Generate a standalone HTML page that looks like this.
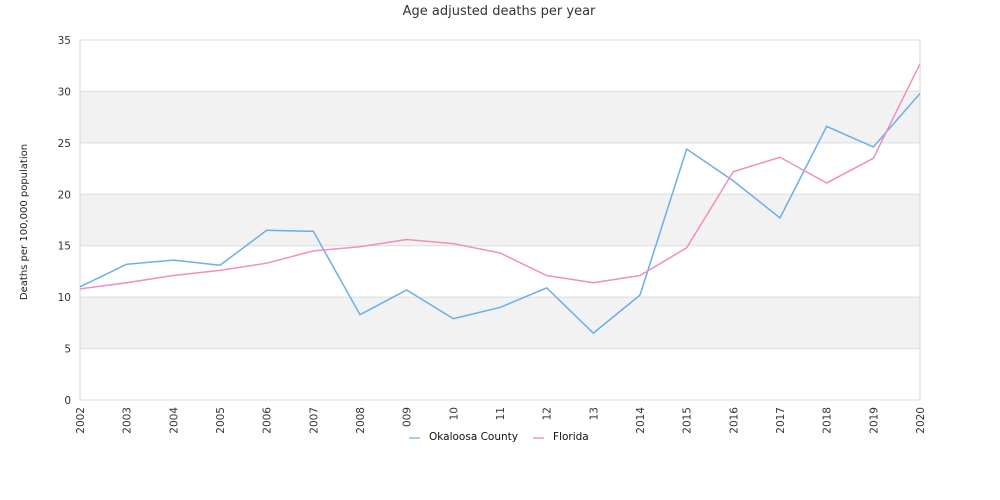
<!DOCTYPE html>
<html><head><meta charset="utf-8"><style>
html,body{margin:0;background:#fff;width:1000px;height:500px;overflow:hidden}
svg{display:block}
text{font-family:"DejaVu Sans","Liberation Sans",sans-serif}
</style></head><body>
<svg id="chart" width="1000" height="500" xmlns="http://www.w3.org/2000/svg">
<text x="499" y="15" text-anchor="middle" font-size="13" fill="#333">Age adjusted deaths per year</text>
<text transform="translate(27,222) rotate(-90)" text-anchor="middle" font-size="10" fill="#222">Deaths per 100,000 population</text>
<g id="bands"></g><g id="grid"></g><g id="axes"></g><g id="series"></g><g id="legend"></g>
</svg>
<script>
const years=["2002","2003","2004","2005","2006","2007","2008","2009","2010","2011","2012","2013","2014","2015","2016","2017","2018","2019","2020"];
const xLabels=["2002","2003","2004","2005","2006","2007","2008","2009","10","11","12","13","2014","2015","2016","2017","2018","2019","2020"];
const okaloosa=[11.0,13.2,13.6,13.1,16.5,16.4,8.3,10.7,7.9,9.0,10.9,6.5,10.2,24.4,21.3,17.7,26.6,24.6,29.8];
const florida=[10.8,11.4,12.1,12.6,13.3,14.5,14.9,15.6,15.2,14.3,12.1,11.4,12.1,14.8,22.2,23.6,21.1,23.5,32.7];
const yTicks=[0,5,10,15,20,25,30,35];
const NS="http://www.w3.org/2000/svg";
const L=80,R=920,T=40,B=400,YMAX=35;
const x=i=>L+(R-L)*i/(years.length-1);
const y=v=>B-(B-T)*v/YMAX;
function mk(tag,attrs,parent){const e=document.createElementNS(NS,tag);for(const k in attrs)e.setAttribute(k,attrs[k]);document.getElementById(parent).appendChild(e);return e;}
for(let k=1;k<yTicks.length-1;k+=2){
  const r=mk('rect',{x:L,y:y(yTicks[k+1]),width:R-L,height:y(yTicks[k])-y(yTicks[k+1]),fill:'#f2f2f2'},'bands');
  
  
}
yTicks.forEach(t=>{
  const l=mk('line',{x1:L,x2:R,y1:y(t),y2:y(t),stroke:'#dcdcdc','stroke-width':1},'grid');
  
  
  const tx=mk('text',{x:L-9,y:y(t)+4,'text-anchor':'end','font-size':10.5,fill:'#333'},'axes');
  
  
  tx.textContent=t;
});
const vl=mk('line',{x1:L,x2:L,y1:T,y2:B,stroke:'#d6d6d6'},'grid');


const vr=mk('line',{x1:R,x2:R,y1:T,y2:B,stroke:'#d6d6d6'},'grid');


xLabels.forEach((lab,i)=>{
  const tx=mk('text',{transform:`translate(${x(i)+4},407) rotate(-90)`,'text-anchor':'end','font-size':10.5,fill:'#333'},'axes');
  
  
  tx.textContent=lab;
});
function series(data,color,name){
  const p=mk('polyline',{points:data.map((v,i)=>x(i)+','+y(v)).join(' '),fill:'none',stroke:color,'stroke-width':1.5},'series');
  
  
}
series(okaloosa,'#6aaeea','okaloosa-line');
series(florida,'#f28dc0','florida-line');
const bg=mk('rect',{x:402,y:428,width:196,height:18,fill:'#fff'},'legend');


[['Okaloosa County','#a6cdf2',409],['Florida','#f5b0d3',533]].forEach(([n,c,lx])=>{
  const sw=mk('line',{x1:lx,x2:lx+11,y1:438,y2:438,stroke:c,'stroke-width':2},'legend');
  
  
  const t=mk('text',{x:lx+20,y:440,'font-size':10.5,fill:'#111'},'legend');
  
  
  t.textContent=n;
});
</script>
</body></html>
